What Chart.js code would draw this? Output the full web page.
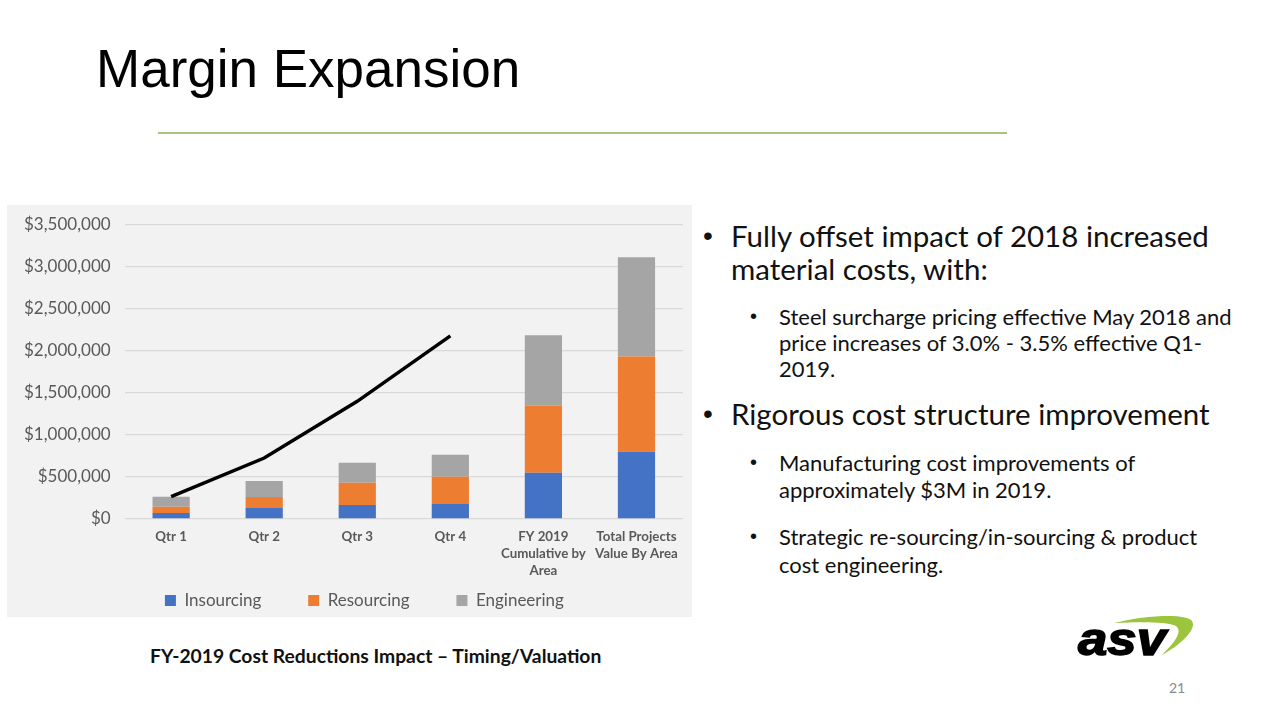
<!DOCTYPE html>
<html>
<head>
<meta charset="utf-8">
<script src="https://cdn.jsdelivr.net/npm/chart.js@4.4.0/dist/chart.umd.min.js"></script>
<style>
  body { margin: 0; width: 1280px; height: 720px; background: #fff; position: relative; overflow: hidden; font-family: "Liberation Sans", Arial, sans-serif; }
  #title { position: absolute; left: 96px; top: 37px; font-size: 53px; line-height: 64px; color: #000; }
  #rule { position: absolute; left: 158px; top: 132px; width: 849px; height: 2px; background: #a9c47f; }
  #panel { position: absolute; left: 7px; top: 205px; width: 685px; height: 412px; background: #f2f2f2; }
  #chart { position: absolute; left: 0; top: 0; }
  #caption { position: absolute; left: 150px; top: 644px; font-family: Lato, sans-serif; font-weight: bold; font-size: 19.3px; line-height: 24px; color: #111; white-space: nowrap; }
  .ln { position: absolute; font-family: Lato, sans-serif; color: #111; white-space: nowrap; }
  .big { font-size: 29.5px; line-height: 36px; left: 731px; }
  .small { font-size: 22px; line-height: 26px; left: 779px; }
  .dot { position: absolute; font-family: "Liberation Sans", Arial, sans-serif; color: #111; }
  #page { position: absolute; left: 1169px; top: 679px; font-family: Lato, sans-serif; font-size: 14px; color: #8a8a8a; }
  #logo { position: absolute; left: 1076px; top: 614px; }
</style>
</head>
<body>
<div id="title">Margin Expansion</div>
<div id="rule"></div>
<div id="panel"><canvas id="chart" width="685" height="416"></canvas></div>
<div id="caption">FY-2019 Cost Reductions Impact – Timing/Valuation</div>

<div class="dot" style="left:703px; top:220px; font-size:28px;">&#8226;</div>
<div class="ln big" style="top:218px;">Fully offset impact of 2018 increased</div>
<div class="ln big" style="top:251px;">material costs, with:</div>

<div class="dot" style="left:750px; top:305px; font-size:20px;">&#8226;</div>
<div class="ln small" style="top:304px;">Steel surcharge pricing effective May 2018 and</div>
<div class="ln small" style="top:330px;">price increases of 3.0% - 3.5% effective Q1-</div>
<div class="ln small" style="top:356px;">2019.</div>

<div class="dot" style="left:703px; top:398px; font-size:28px;">&#8226;</div>
<div class="ln big" style="top:396px;">Rigorous cost structure improvement</div>

<div class="dot" style="left:750px; top:451px; font-size:20px;">&#8226;</div>
<div class="ln small" style="top:450px;">Manufacturing cost improvements of</div>
<div class="ln small" style="top:477px;">approximately $3M in 2019.</div>

<div class="dot" style="left:750px; top:525px; font-size:20px;">&#8226;</div>
<div class="ln small" style="top:524px;">Strategic re-sourcing/in-sourcing &amp; product</div>
<div class="ln small" style="top:552px;">cost engineering.</div>

<svg id="logo" width="120" height="46" viewBox="0 0 120 46">
  <path d="M38 9 C70 1 110 -1 116 7 C121 15 106 30 86 41 C99 28 107 18 100 12 C90 7 60 8 38 9 Z" fill="#9cc43c"/>
  <text x="2" y="41" font-family="Liberation Sans, Arial" font-weight="bold" font-style="italic" font-size="46" fill="#000" textLength="88" lengthAdjust="spacingAndGlyphs" stroke="#000" stroke-width="1.5">asv</text>
</svg>
<div id="page">21</div>
<script>
var categories = ['Qtr 1', 'Qtr 2', 'Qtr 3', 'Qtr 4', ['FY 2019', 'Cumulative by', 'Area'], ['Total Projects', 'Value By Area']];
var insourcing = [72000, 131000, 167000, 179000, 550000, 800000];
var resourcing = [72000, 131000, 263000, 322000, 800000, 1135000];
var engineering = [120000, 191000, 239000, 263000, 836000, 1180000];
var cumulative = [265000, 725000, 1400000, 2180000, null, null];
var legendText = ['Insourcing        ', 'Resourcing        ', 'Engineering'];

var ctx = document.getElementById('chart').getContext('2d');
new Chart(ctx, {
    data: {
        labels: categories,
        datasets: [
            { type: 'line', label: 'Cumulative', data: cumulative, borderColor: '#000', borderWidth: 3.5, pointRadius: 0, stack: 'line', order: 0 },
            { type: 'bar', label: 'Insourcing', data: insourcing, backgroundColor: '#4472c4', stack: 'a', order: 1 },
            { type: 'bar', label: 'Resourcing', data: resourcing, backgroundColor: '#ed7d31', stack: 'a', order: 1 },
            { type: 'bar', label: 'Engineering', data: engineering, backgroundColor: '#a5a5a5', stack: 'a', order: 1 }
        ]
    },
    options: {
        responsive: false,
        animation: false,
        layout: { padding: { left: 3, right: 9, top: 4, bottom: 2 } },
        datasets: { bar: { barPercentage: 0.4, categoryPercentage: 1 } },
        plugins: {
            tooltip: { enabled: false },
            legend: {
                position: 'bottom',
                labels: {
                    boxWidth: 11, boxHeight: 11, padding: 12,
                    color: '#595959',
                    font: { family: 'Lato', size: 17 },
                    generateLabels: function(chart) {
                        // only the three bar series, with wider gaps between them
                        var items = Chart.defaults.plugins.legend.labels.generateLabels(chart);
                        items = items.slice(1).map(function(it, i) {
                            it.text = legendText[i];
                            return it;
                        });
                        // blank spacer in front nudges the row to the right
                        items.unshift({ text: ' ', fillStyle: 'rgba(0,0,0,0)', strokeStyle: 'rgba(0,0,0,0)', lineWidth: 0, hidden: false, datasetIndex: -1 });
                        return items;
                    }
                }
            }
        },
        scales: {
            x: {
                stacked: true,
                grid: { display: false },
                border: { display: false },
                ticks: { color: '#595959', font: { family: 'Lato', size: 13.3, weight: 'bold', lineHeight: 1.28 }, maxRotation: 0, autoSkip: false, padding: 1 }
            },
            y: {
                stacked: true,
                min: 0, max: 3500000,
                grid: { color: '#d9d9d9', lineWidth: 1.3, drawTicks: false },
                border: { display: false },
                afterFit: function(scale) { scale.paddingTop = 20; },
                ticks: {
                    stepSize: 500000,
                    color: '#595959',
                    font: { family: 'Lato', size: 17 },
                    padding: 14,
                    callback: function(v) { return '$' + v.toLocaleString('en-US'); }
                }
            }
        }
    }
});
</script>
</body>
</html>
